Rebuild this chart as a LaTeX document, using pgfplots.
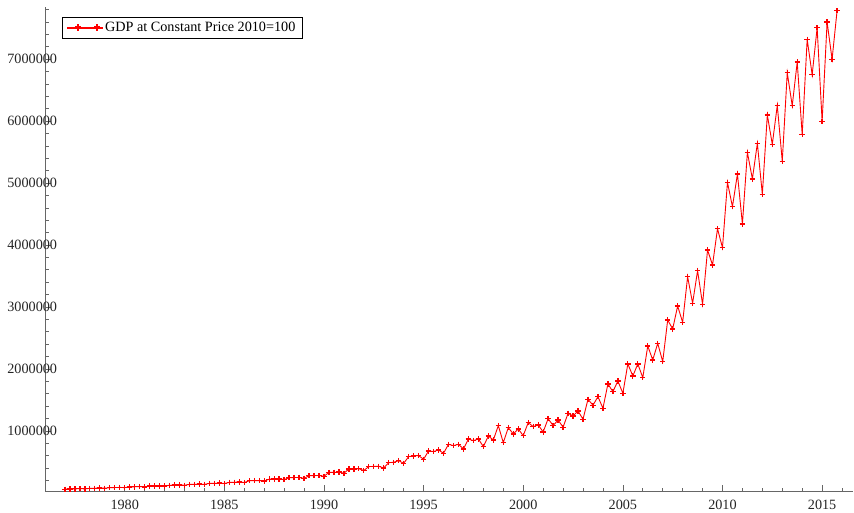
\documentclass[border=0pt]{standalone}
\usepackage{fontspec}
\setmainfont{Liberation Serif}
\usepackage{pgfplots}
\usepackage{pgfplotstable}
\pgfplotsset{compat=1.18}
\definecolor{gdpred}{RGB}{255,0,0}
\pgfplotsset{
  twomarks legend/.style={
    legend image code/.code={
      \fill[gdpred] (0pt,-0.5pt) rectangle (35pt,0.5pt);
      \fill[gdpred] (7.4pt,-0.65pt) rectangle (12.6pt,0.65pt);
      \fill[gdpred] (9.35pt,-2.6pt) rectangle (10.65pt,2.6pt);
      \fill[gdpred] (26.4pt,-0.65pt) rectangle (31.6pt,0.65pt);
      \fill[gdpred] (28.35pt,-2.6pt) rectangle (29.65pt,2.6pt);
    }
  }
}
\pgfplotstableread{
x y
1977.00 60000
1977.25 64000
1977.50 66000
1977.75 68000
1978.00 66000
1978.25 74000
1978.50 76000
1978.75 78000
1979.00 76000
1979.25 85000
1979.50 87000
1979.75 89000
1980.00 86000
1980.25 97000
1980.50 99000
1980.75 101000
1981.00 98000
1981.25 110000
1981.50 112000
1981.75 114000
1982.00 110000
1982.25 124000
1982.50 126000
1982.75 128000
1983.00 124000
1983.25 138000
1983.50 140000
1983.75 142000
1984.00 138000
1984.25 154000
1984.50 156000
1984.75 158000
1985.00 152000
1985.25 170000
1985.50 172000
1985.75 176000
1986.00 168000
1986.25 196000
1986.50 198000
1986.75 200000
1987.00 192000
1987.25 222000
1987.50 224000
1987.75 226000
1988.00 214000
1988.25 246000
1988.50 248000
1988.75 250000
1989.00 234000
1989.25 278000
1989.50 280000
1989.75 282000
1990.00 268000
1990.25 330000
1990.50 333000
1990.75 336000
1991.00 318000
1991.25 385000
1991.50 388000
1991.75 390000
1992.00 362000
1992.25 425000
1992.50 428000
1992.75 430000
1993.00 403000
1993.25 489000
1993.50 494000
1993.75 521000
1994.00 478000
1994.25 586000
1994.50 597000
1994.75 602000
1995.00 543000
1995.25 677000
1995.50 667000
1995.75 694000
1996.00 640000
1996.25 785000
1996.50 763000
1996.75 785000
1997.00 710000
1997.25 871000
1997.50 844000
1997.75 871000
1998.00 747000
1998.25 919000
1998.50 855000
1998.75 1086000
1999.00 811000
1999.25 1053000
1999.50 952000
1999.75 1032000
2000.00 924000
2000.25 1134000
2000.50 1070000
2000.75 1097000
2001.00 984000
2001.25 1198000
2001.50 1086000
2001.75 1177000
2002.00 1060000
2002.25 1285000
2002.50 1242000
2002.75 1323000
2003.00 1189000
2003.25 1511000
2003.50 1415000
2003.75 1553000
2004.00 1366000
2004.25 1758000
2004.50 1634000
2004.75 1806000
2005.00 1608000
2005.25 2081000
2005.50 1887000
2005.75 2081000
2006.00 1860000
2006.25 2371000
2006.50 2145000
2006.75 2414000
2007.00 2118000
2007.25 2790000
2007.50 2645000
2007.75 3016000
2008.00 2753000
2008.25 3489000
2008.50 3060000
2008.75 3585000
2009.00 3044000
2009.25 3920000
2009.50 3677000
2009.75 4263000
2010.00 3956000
2010.25 5011000
2010.50 4618000
2010.75 5145000
2011.00 4339000
2011.25 5495000
2011.50 5065000
2011.75 5640000
2012.00 4818000
2012.25 6097000
2012.50 5624000
2012.75 6253000
2013.00 5350000
2013.25 6779000
2013.50 6247000
2013.75 6952000
2014.00 5779000
2014.25 7318000
2014.50 6747000
2014.75 7505000
2015.00 5995000
2015.25 7597000
2015.50 6995000
2015.75 7779000
}\gdpdata
\begin{document}
\fontsize{14.2}{16}\selectfont
\begin{tikzpicture}[x=1pt,y=1pt]
\path[use as bounding box] (0,0) rectangle (854,513);
\begin{axis}[
  at={(45pt,21.3pt)}, anchor=south west,
  width=808pt, height=484.7pt, scale only axis,
  xmin=1976.0, xmax=2016.55, ymin=20000, ymax=7840000,
  axis lines=left,
  axis line style={-, black!60, line width=0.8pt},
  tick align=inside,
  xtick={1980,1985,1990,1995,2000,2005,2010,2015},
  minor xtick={1976,1977,1978,1979,1980,1981,1982,1983,1984,1985,1986,1987,1988,1989,1990,1991,1992,1993,1994,1995,1996,1997,1998,1999,2000,2001,2002,2003,2004,2005,2006,2007,2008,2009,2010,2011,2012,2013,2014,2015,2016},
  ytick={1000000,2000000,3000000,4000000,5000000,6000000,7000000},
  minor ytick={200000,400000,600000,800000,1200000,1400000,1600000,1800000,2200000,2400000,2600000,2800000,3200000,3400000,3600000,3800000,4200000,4400000,4600000,4800000,5200000,5400000,5600000,5800000,6200000,6400000,6600000,6800000,7200000,7400000,7600000,7800000},
  major tick length=6.5pt, minor tick length=4pt,
  every tick/.style={black!60, line width=0.6pt},
  scaled y ticks=false,
  /pgf/number format/assume math mode=true,
  tick label style={font=\fontsize{14.2}{16}\selectfont, text=black!85},
  xticklabel style={/pgf/number format/1000 sep={}, yshift=-3pt},
  yticklabel style={/pgf/number format/fixed, /pgf/number format/1000 sep={}, anchor=east, xshift=17pt},
  clip=false,
  legend style={at={(axis description cs:0,1)}, anchor=north west, xshift=17pt, yshift=-10pt,
    draw=black, line width=0.5pt, font=\fontsize{14.2}{16}\selectfont, inner xsep=5pt, inner ysep=2.5pt},
  twomarks legend,
]
\addplot[draw=gdpred, color=gdpred, line width=0.9pt, mark=+, mark size=2.7pt,
  mark options={line width=1.3pt, draw=gdpred}] table[x=x,y=y] {\gdpdata};
\addlegendentry{GDP at Constant Price 2010=100}
\end{axis}
\end{tikzpicture}
\end{document}
